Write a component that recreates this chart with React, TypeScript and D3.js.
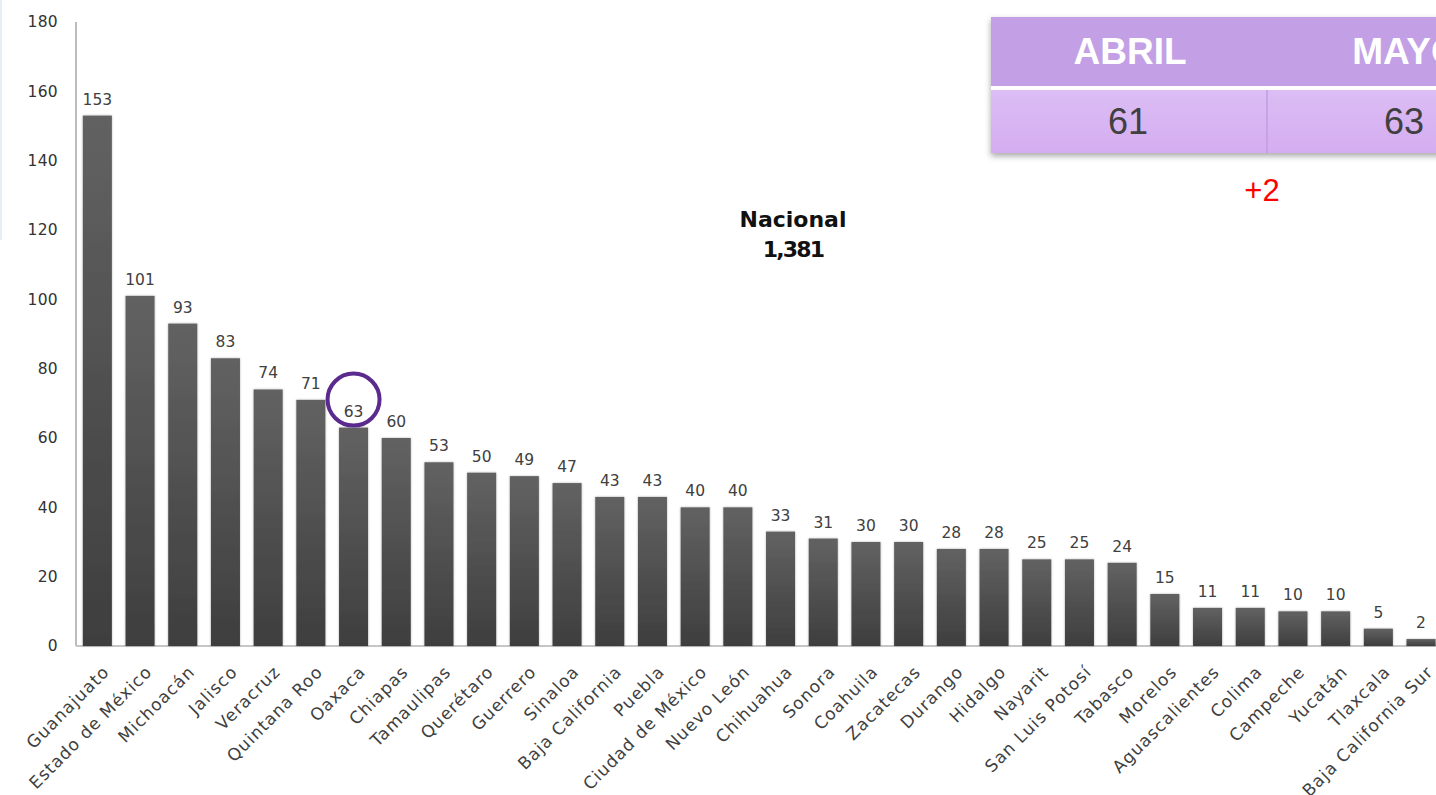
import React from "react";
import * as d3 from "d3";

const states = ["Guanajuato","Estado de México","Michoacán","Jalisco","Veracruz","Quintana Roo","Oaxaca","Chiapas","Tamaulipas","Querétaro","Guerrero","Sinaloa","Baja California","Puebla","Ciudad de México","Nuevo León","Chihuahua","Sonora","Coahuila","Zacatecas","Durango","Hidalgo","Nayarit","San Luis Potosí","Tabasco","Morelos","Aguascalientes","Colima","Campeche","Yucatán","Tlaxcala","Baja California Sur"];
const values = [153,101,93,83,74,71,63,60,53,50,49,47,43,43,40,40,33,31,30,30,28,28,25,25,24,15,11,11,10,10,5,2];
const yTicks = [0,20,40,60,80,100,120,140,160,180];
const highlighted = "Oaxaca";
const tableHeaders = ["ABRIL","MAYO"];
const tableValues = ["61","63"];
const changeLabel = "+2";
const nationalLabel = ["Nacional","1,381"];

const W = 1436, H = 795;
const font = "'DejaVu Sans', 'Open Sans', sans-serif";
const arial = "'Liberation Sans', Arial, sans-serif";

export default function App() {
  const step = 42.7;
  const x = d3.scaleBand<string>().domain(states).range([76, 76 + states.length * step]).paddingInner(0.32).paddingOuter(0.16);
  const y = d3.scaleLinear().domain([0, 180]).range([646, 22]);
  const bw = x.bandwidth();
  const ox = x(highlighted)! + bw / 2;
  const oy = y(values[states.indexOf(highlighted)]);
  const tx = 991, colW = 276;
  return (
    <svg width={W} height={H} style={{ position: "absolute", left: 0, top: 0, background: "#fff" }} fontFamily={font}>
      <defs>
        <linearGradient id="barG" x1="0" y1="0" x2="0" y2="1">
          <stop offset="0" stopColor="#626262" />
          <stop offset="1" stopColor="#3e3e3e" />
        </linearGradient>
        <linearGradient id="rowG" x1="0" y1="0" x2="0" y2="1">
          <stop offset="0" stopColor="#dcbdf4" />
          <stop offset="1" stopColor="#d4adf1" />
        </linearGradient>
        <filter id="sh" x="-5%" y="-5%" width="110%" height="120%">
          <feDropShadow dx="0" dy="3" stdDeviation="3" floodColor="#000" floodOpacity="0.35" />
        </filter>
        <filter id="bsh" x="-20%" y="-5%" width="140%" height="110%">
          <feDropShadow dx="0" dy="0" stdDeviation="1.2" floodColor="#000" floodOpacity="0.3" />
        </filter>
      </defs>
      <rect x={0} y={0} width={2} height={240} fill="#e6eef8" />
      {yTicks.map(t => (
        <text key={t} x={58} y={y(t)} dy="0.35em" textAnchor="end" fontSize={15.5} letterSpacing={0.3} fill="#333">{t}</text>
      ))}
      <line x1={76} x2={76} y1={22} y2={646} stroke="#bdbdbd" strokeWidth={2} />
      <line x1={76} x2={W} y1={646} y2={646} stroke="#c6c6c6" strokeWidth={2} />
      {states.map((s, i) => (
        <g key={s}>
          <rect x={x(s)} y={y(values[i])} width={bw} height={646 - y(values[i])} fill="url(#barG)" filter="url(#bsh)" />
          <text x={x(s)! + bw / 2} y={y(values[i]) - 11} textAnchor="middle" fontSize={15.5} fill="#404040">{values[i]}</text>
          <text transform={`translate(${x(s)! + bw / 2 + 4},${664}) rotate(-45)`} textAnchor="end" dy="0.75em" fontSize={17} letterSpacing={1} fill="#404040">{s}</text>
        </g>
      ))}
      <circle cx={ox} cy={oy - 28} r={26} fill="none" stroke="#5a2a8e" strokeWidth={4} />
      <text x={793} y={227} textAnchor="middle" fontSize={22} fontWeight={700} fill="#111">{nationalLabel[0]}</text>
      <text x={793} y={257} textAnchor="middle" fontSize={22} fontWeight={700} letterSpacing={-1.8} fill="#111">{nationalLabel[1]}</text>
      <g filter="url(#sh)">
        <rect x={tx} y={17} width={colW * 2} height={69} fill="#c39fe5" />
        <rect x={tx} y={86} width={colW * 2} height={4} fill="#fff" />
        <rect x={tx} y={90} width={colW * 2} height={63} fill="url(#rowG)" />
      </g>
      <line x1={tx + colW} x2={tx + colW} y1={90} y2={153} stroke="#c09de2" strokeWidth={1.5} />
      {tableHeaders.map((h, i) => (
        <g key={h}>
          <text x={tx + colW * i + colW / 2 + 1} y={64} textAnchor="middle" fontSize={37} fontWeight={700} fill="#fff" fontFamily={arial}>{h}</text>
          <text x={tx + colW * i + colW / 2 - 1} y={134} textAnchor="middle" fontSize={36} fill="#404040" fontFamily={arial}>{tableValues[i]}</text>
        </g>
      ))}
      <text x={tx + colW - 5} y={201} textAnchor="middle" fontSize={31} fill="#ff0000" fontFamily={arial}>{changeLabel}</text>
    </svg>
  );
}
